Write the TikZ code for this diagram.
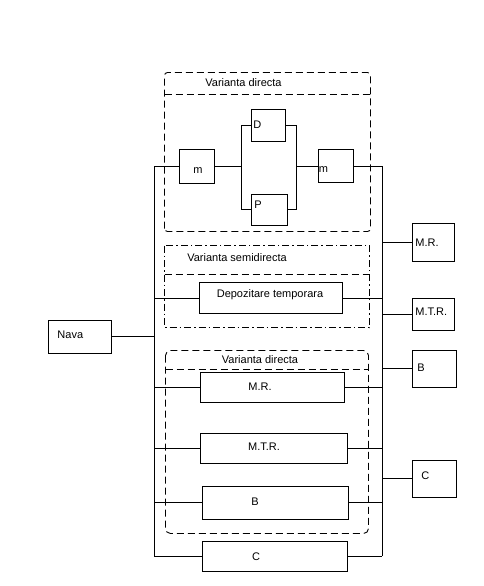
\documentclass[tikz,border=0pt]{standalone}
\usepackage{fontspec}
\setmainfont{Liberation Sans}
\begin{document}
\begin{tikzpicture}[x=1pt,y=-1pt,line width=0.9pt,
  bx/.style={draw,inner sep=0pt},
  txt/.style={inner sep=0pt,anchor=base,font=\fontsize{11}{13}\selectfont},
  txtw/.style={txt,anchor=base west},
  dsh/.style={line width=0.9pt,dash pattern=on 7pt off 4pt},
  dd/.style={line width=0.9pt,dash pattern=on 7pt off 3pt on 1.5pt off 3pt}]
\useasboundingbox (0,0) rectangle (484,586);

% dashed groups
\draw[dsh,rounded corners=3pt] (164.5,231.5) rectangle (370.5,72.5);
\draw[dsh] (164.5,94.5) -- (370.5,94.5);
\draw[dd] (164.5,245.5) rectangle (369.5,327.5);
\draw[dsh] (164.5,274.5) -- (369.5,274.5);
\draw[dsh,rounded corners=5pt] (165.5,350.5) rectangle (368.5,533.5);
\draw[dsh] (165.5,369.5) -- (368.5,369.5);

% group titles
\node[txt] (t1) at (243.5,86) {Varianta directa};
\node[txt] (t2) at (237,261) {Varianta semidirecta};
\node[txt] (t3) at (260,363) {Varianta directa};

% boxes
\node[bx,minimum width=35pt,minimum height=34pt] (m1) at (196.5,166) {};
\node[bx,minimum width=34pt,minimum height=32pt] (D) at (268,125) {};
\node[bx,minimum width=36pt,minimum height=31pt] (P) at (269,209.5) {};
\node[bx,minimum width=35pt,minimum height=33pt] (m2) at (335.5,166) {};
\node[bx,minimum width=143pt,minimum height=31pt] (DT) at (270.5,298) {};
\node[bx,minimum width=144pt,minimum height=30pt] (MR) at (272,387) {};
\node[bx,minimum width=147pt,minimum height=30pt] (MTR) at (273.5,448) {};
\node[bx,minimum width=146pt,minimum height=33pt] (B) at (275,502.5) {};
\node[bx,minimum width=145pt,minimum height=30pt] (C) at (274.5,556) {};
\node[bx,minimum width=42pt,minimum height=38pt] (RMR) at (433,242) {};
\node[bx,minimum width=42pt,minimum height=32pt] (RMTR) at (433,314) {};
\node[bx,minimum width=44pt,minimum height=37pt] (RB) at (434,368.5) {};
\node[bx,minimum width=44pt,minimum height=37pt] (RC) at (434,478.5) {};
\node[bx,minimum width=63pt,minimum height=33pt] (Nava) at (79.5,336.5) {};

% box texts
\node[txt] (tm1) at (198,173) {m};
\node[txtw] (tD) at (253,128) {D};
\node[txtw] (tP) at (254,208) {P};
\node[txtw] (tm2) at (318.5,172) {m};
\node[txt] (tDT) at (270,297) {Depozitare temporara};
\node[txt] (tMR) at (260,390) {M.R.};
\node[txt] (tMTR) at (264,450) {M.T.R.};
\node[txt] (tB) at (255,505) {B};
\node[txt] (tC) at (256,560) {C};
\node[txtw] (tRMR) at (415,246) {M.R.};
\node[txtw] (tRMTR) at (415,315) {M.T.R.};
\node[txtw] (tRB) at (417,371) {B};
\node[txtw] (tRC) at (421,479) {C};
\node[txtw] (tNava) at (57,338) {Nava};

% buses
\coordinate (lt) at (154,166);
\coordinate (lb) at (154,556);
\coordinate (rt) at (382,166);
\coordinate (rb) at (382,556);
\draw (lt) -- (lb);
\draw (rt) -- (rb);

% parallel D / P
\coordinate (sl1) at (241,125);
\coordinate (sl2) at (241,209.5);
\coordinate (sr1) at (296,125);
\coordinate (sr2) at (296,209.5);
\draw (lt) -- (m1.west);
\draw (m1.east) -- (m1.east -| sl1);
\draw (sl1) -- (sl2);
\draw (sl1) -- (D.west);
\draw (sl2) -- (P.west);
\draw (D.east) -- (sr1);
\draw (P.east) -- (sr2);
\draw (sr1) -- (sr2);
\draw (m2.west -| sr1) -- (m2.west);
\draw (m2.east) -- (rt);

% branches between buses
\foreach \n in {DT,MR,MTR,B,C}{
  \draw (\n.west -| lt) -- (\n.west);
  \draw (\n.east) -- (\n.east -| rt);
}
% right boxes
\foreach \n in {RMR,RMTR,RB,RC}{
  \draw (\n.west -| rt) -- (\n.west);
}
\draw (Nava.east) -- (Nava.east -| lt);
\end{tikzpicture}
\end{document}
